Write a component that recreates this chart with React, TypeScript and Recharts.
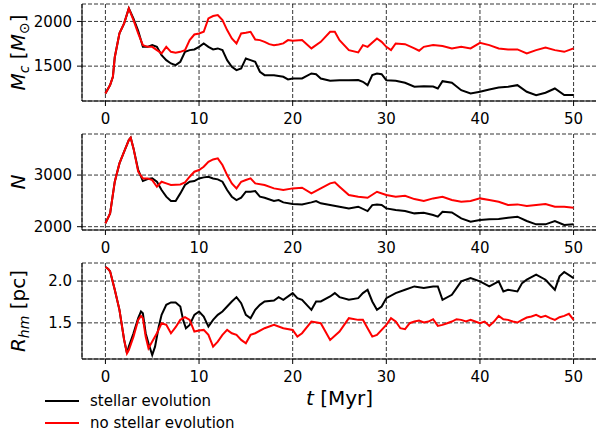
import { CartesianGrid, Line, LineChart, XAxis, YAxis } from "recharts";

type Pt = [number, number];

const timeTicks = [0, 10, 20, 30, 40, 50];

// cluster mass M_c [M_sun]
const massStellar: Pt[] = [
  [0, 1194], [0.5, 1288], [0.8, 1381], [1, 1600], [1.5, 1866], [2, 1978], [2.5, 2146], [3, 2030],
  [3.5, 1895], [4, 1716], [4.5, 1716], [5, 1735], [5.5, 1716], [6, 1623], [6.5, 1567], [7, 1530],
  [7.5, 1511], [8, 1549], [8.5, 1660], [9, 1679], [9.5, 1687], [10, 1716], [10.5, 1754], [11, 1716],
  [11.5, 1687], [12, 1698], [12.5, 1679], [13, 1567], [13.5, 1493], [14, 1455], [14.5, 1474],
  [15, 1586], [15.5, 1567], [16, 1549], [16.5, 1437], [17, 1399], [18, 1399], [19, 1381],
  [19.5, 1351], [20, 1362], [21, 1362], [22, 1418], [22.5, 1410], [23, 1362], [24, 1336],
  [25, 1343], [26, 1343], [27, 1345], [27.5, 1325], [28, 1287], [28.5, 1399], [29, 1418],
  [29.5, 1410], [30, 1343], [31, 1336], [32, 1314], [33, 1269], [34, 1275], [35, 1272],
  [35.5, 1250], [36, 1332], [37, 1314], [38, 1231], [39, 1194], [40, 1213], [41, 1239],
  [42, 1261], [43, 1269], [44, 1287], [45, 1213], [46, 1176], [47, 1202], [48, 1250],
  [49, 1176], [50, 1176],
];
const massNoStellar: Pt[] = [
  [0, 1194], [0.5, 1288], [0.8, 1381], [1, 1600], [1.5, 1866], [2, 1978], [2.5, 2146], [3, 2015],
  [3.5, 1866], [4, 1735], [4.5, 1716], [5, 1716], [5.5, 1679], [6, 1642], [6.5, 1716], [7, 1660],
  [7.5, 1650], [8, 1660], [8.5, 1679], [9, 1791], [9.5, 1854], [10, 1866], [10.5, 1884],
  [11, 2034], [11.5, 2060], [12, 2071], [12.5, 2015], [13, 1903], [13.5, 1810], [14, 1754],
  [14.5, 1866], [15, 1873], [15.5, 1884], [16, 1798], [16.5, 1791], [17, 1772], [17.5, 1746],
  [18, 1735], [18.5, 1743], [19, 1754], [19.5, 1791], [20, 1784], [21, 1791], [22, 1698],
  [23, 1772], [24, 1884], [24.5, 1884], [25, 1791], [26, 1679], [27, 1653], [27.5, 1735],
  [28, 1716], [29, 1810], [29.5, 1772], [30, 1716], [30.5, 1679], [31, 1754], [32, 1746],
  [33, 1698], [33.5, 1672], [34, 1716], [35, 1735], [36, 1724], [37, 1698], [38, 1716],
  [39, 1698], [40, 1761], [41, 1735], [42, 1698], [43, 1687], [44, 1687], [45, 1642],
  [46, 1679], [47, 1709], [48, 1679], [49, 1660], [50, 1698],
];

// number of stars N
const countStellar: Pt[] = [
  [0, 2065], [0.5, 2258], [1, 2871], [1.5, 3226], [2, 3452], [2.5, 3677], [2.7, 3722], [3, 3516],
  [3.5, 3100], [4, 2884], [4.5, 2923], [5, 2935], [5.5, 2871], [6, 2710], [6.5, 2581], [7, 2497],
  [7.5, 2497], [8, 2645], [8.5, 2807], [9, 2871], [9.5, 2884], [10, 2935], [10.5, 2955],
  [11, 2968], [11.5, 2935], [12, 2916], [12.5, 2871], [13, 2710], [13.5, 2581], [14, 2516],
  [14.5, 2561], [15, 2677], [15.5, 2677], [16, 2690], [16.5, 2581], [17, 2561], [18, 2497],
  [18.5, 2516], [19, 2471], [20, 2439], [21, 2432], [22, 2471], [22.5, 2497], [23, 2452],
  [24, 2419], [25, 2387], [26, 2355], [27, 2387], [28, 2303], [28.5, 2419], [29, 2432],
  [29.5, 2419], [30, 2355], [31, 2323], [32, 2303], [33, 2258], [34, 2271], [35, 2226],
  [35.5, 2194], [36, 2290], [37, 2277], [38, 2161], [39, 2097], [40, 2129], [41, 2142],
  [42, 2148], [43, 2174], [44, 2194], [45, 2110], [46, 2045], [47, 2045], [48, 2110],
  [49, 2032], [50, 2045],
];
const countNoStellar: Pt[] = [
  [0, 2065], [0.5, 2258], [1, 2871], [1.5, 3226], [2, 3452], [2.5, 3677], [2.7, 3722], [3, 3516],
  [3.5, 3065], [4, 2935], [4.5, 2935], [5, 2903], [5.5, 2774], [6, 2871], [6.5, 2839], [7, 2807],
  [8, 2819], [8.5, 2858], [9, 2968], [9.5, 3065], [10, 3097], [10.5, 3161], [11, 3258],
  [11.5, 3303], [12, 3323], [12.5, 3194], [13, 3000], [13.5, 2839], [14, 2742], [14.5, 2871],
  [15, 2903], [15.5, 2935], [16, 2839], [17, 2807], [18, 2742], [19, 2710], [20, 2742],
  [21, 2755], [22, 2645], [23, 2742], [24, 2839], [24.5, 2858], [25, 2774], [26, 2613],
  [27, 2581], [28, 2561], [29, 2677], [30, 2613], [31, 2581], [32, 2600], [33, 2535],
  [34, 2497], [35, 2548], [36, 2581], [37, 2516], [38, 2484], [39, 2497], [40, 2548],
  [41, 2516], [42, 2484], [43, 2419], [44, 2432], [45, 2400], [46, 2419], [47, 2439],
  [48, 2387], [49, 2387], [50, 2368],
];

// half-mass radius R_hm [pc]
const radiusStellar: Pt[] = [
  [0, 2.168], [0.3, 2.144], [0.5, 2.116], [1, 1.896], [1.5, 1.656], [2, 1.296], [2.3, 1.14],
  [2.5, 1.216], [3, 1.376], [3.5, 1.556], [3.8, 1.636], [4, 1.616], [4.3, 1.376], [4.6, 1.256],
  [5, 1.116], [5.3, 1.216], [5.7, 1.456], [6, 1.596], [6.5, 1.716], [7, 1.744], [7.5, 1.744],
  [8, 1.696], [8.3, 1.536], [8.6, 1.436], [9, 1.476], [9.5, 1.596], [10, 1.636], [10.5, 1.576],
  [11, 1.456], [11.5, 1.536], [12, 1.596], [12.5, 1.636], [13, 1.696], [13.5, 1.756],
  [14, 1.808], [14.5, 1.736], [15, 1.596], [15.5, 1.556], [16, 1.656], [16.5, 1.716],
  [17, 1.756], [18, 1.768], [18.5, 1.808], [19, 1.776], [20, 1.856], [20.5, 1.796],
  [21, 1.776], [22, 1.656], [22.5, 1.756], [23, 1.756], [24, 1.816], [24.5, 1.856],
  [25, 1.808], [26, 1.776], [27, 1.796], [27.5, 1.856], [28, 1.896], [28.5, 1.756],
  [29, 1.656], [29.5, 1.696], [30, 1.796], [31, 1.856], [32, 1.896], [33, 1.936], [34, 1.916],
  [35, 1.936], [35.5, 1.936], [36, 1.776], [37, 1.836], [37.5, 1.916], [38, 1.996],
  [39, 2.036], [40, 1.996], [41, 1.936], [42, 1.996], [42.5, 1.876], [43, 1.896], [44, 1.876],
  [44.5, 1.976], [45, 2.016], [46, 2.076], [47, 2.016], [48, 1.896], [48.5, 2.056],
  [49, 2.108], [50, 2.036],
];
const radiusNoStellar: Pt[] = [
  [0, 2.168], [0.3, 2.144], [0.5, 2.116], [1, 1.896], [1.5, 1.656], [2, 1.296], [2.3, 1.136],
  [2.5, 1.176], [3, 1.336], [3.5, 1.536], [3.8, 1.584], [4, 1.556], [4.3, 1.336], [4.6, 1.196],
  [5, 1.276], [5.5, 1.376], [6, 1.496], [6.5, 1.476], [7, 1.376], [7.5, 1.448], [8, 1.536],
  [8.5, 1.568], [9, 1.536], [9.5, 1.396], [10, 1.408], [10.5, 1.416], [11, 1.356], [11.5, 1.216],
  [12, 1.276], [12.5, 1.356], [13, 1.416], [13.5, 1.376], [14, 1.356], [14.5, 1.296],
  [15, 1.256], [15.5, 1.356], [16, 1.376], [17, 1.436], [18, 1.476], [19, 1.436], [20, 1.416],
  [20.5, 1.336], [21, 1.376], [22, 1.516], [23, 1.496], [24, 1.296], [25, 1.396], [25.5, 1.476],
  [26, 1.556], [27, 1.536], [27.5, 1.536], [28, 1.436], [28.5, 1.336], [29, 1.356],
  [30, 1.476], [30.5, 1.556], [31, 1.516], [31.5, 1.436], [32, 1.424], [32.5, 1.496],
  [33, 1.516], [33.5, 1.528], [34, 1.504], [34.5, 1.516], [35, 1.544], [35.5, 1.464],
  [36, 1.476], [36.5, 1.496], [37, 1.516], [37.5, 1.544], [38, 1.536], [38.5, 1.516],
  [39, 1.536], [39.5, 1.516], [40, 1.496], [40.5, 1.516], [41, 1.464], [41.5, 1.516],
  [42, 1.584], [42.5, 1.544], [43, 1.536], [43.5, 1.516], [44, 1.504], [44.5, 1.536],
  [45, 1.564], [45.5, 1.576], [46, 1.596], [46.5, 1.568], [47, 1.584], [47.5, 1.556],
  [48, 1.536], [48.5, 1.568], [49, 1.584], [49.5, 1.608], [50, 1.536],
];

const FONT = "DejaVu Sans, sans-serif";
const toPts = (arr: Pt[]) => arr.map(([t, v]) => ({ t, v }));

function MassLabel({ viewBox }: any) {
  const x = viewBox.x + 25;
  const y = viewBox.y + viewBox.height / 2;
  return (
    <text x={x} y={y} transform={`rotate(-90, ${x}, ${y})`} textAnchor="middle" fontSize={20} fontFamily={FONT} fill="#000">
      <tspan fontStyle="italic">M</tspan>
      <tspan fontStyle="italic" fontSize={14} dy={4}>c</tspan>
      <tspan dy={-4}> [</tspan>
      <tspan fontStyle="italic">M</tspan>
      <tspan fontSize={14} dy={4}>⊙</tspan>
      <tspan dy={-4}>]</tspan>
    </text>
  );
}

function CountLabel({ viewBox }: any) {
  const x = viewBox.x + 25;
  const y = viewBox.y + viewBox.height / 2;
  return (
    <text x={x} y={y} transform={`rotate(-90, ${x}, ${y})`} textAnchor="middle" fontSize={20} fontFamily={FONT} fontStyle="italic" fill="#000">
      N
    </text>
  );
}

function RadiusLabel({ viewBox }: any) {
  const x = viewBox.x + 25;
  const y = viewBox.y + viewBox.height / 2;
  return (
    <text x={x} y={y} transform={`rotate(-90, ${x}, ${y})`} textAnchor="middle" fontSize={20} fontFamily={FONT} fill="#000">
      <tspan fontStyle="italic">R</tspan>
      <tspan fontStyle="italic" fontSize={14} dy={4}>hm</tspan>
      <tspan dy={-4}> [pc]</tspan>
    </text>
  );
}

function TimeLabel({ viewBox }: any) {
  return (
    <text x={viewBox.x + viewBox.width / 2} y={viewBox.y + 46} textAnchor="middle" fontSize={20} fontFamily={FONT} fill="#000">
      <tspan fontStyle="italic">t</tspan>
      <tspan> [Myr]</tspan>
    </text>
  );
}

interface PanelProps {
  top: number;
  height: number;
  bottom: number;
  domain: [number, number];
  yTicks: number[];
  fmt?: (v: number) => string;
  stellar: Pt[];
  noStellar: Pt[];
  yLabel: any;
  xLabel?: any;
}

const tickStyle = { fill: "#000", fontSize: 15, fontFamily: FONT };

function Panel({ top, height, bottom, domain, yTicks, fmt, stellar, noStellar, yLabel, xLabel }: PanelProps) {
  return (
    <div style={{ position: "absolute", left: 0, top }}>
      <LineChart width={602} height={height} margin={{ top: 4, right: 5, bottom, left: 0 }}>
        <CartesianGrid stroke="#000" strokeWidth={0.8} strokeDasharray="4 2" />
        <XAxis
          dataKey="t"
          type="number"
          domain={[-2.5, 52.5]}
          ticks={timeTicks}
          allowDataOverflow
          height={25}
          tickSize={5}
          tickMargin={7}
          tick={tickStyle}
          stroke="#000"
          label={xLabel}
        />
        <XAxis xAxisId="top" orientation="top" type="number" domain={[-2.5, 52.5]} height={0} tick={false} tickLine={false} stroke="#000" />
        <YAxis
          type="number"
          domain={domain}
          ticks={yTicks}
          allowDataOverflow
          width={82}
          tickSize={5}
          tickMargin={5}
          tick={tickStyle}
          tickFormatter={fmt}
          stroke="#000"
          label={yLabel}
        />
        <YAxis yAxisId="right" orientation="right" width={0} tick={false} tickLine={false} stroke="#000" />
        <Line data={toPts(stellar)} dataKey="v" stroke="#000000" strokeWidth={2} dot={false} type="linear" isAnimationActive={false} />
        <Line data={toPts(noStellar)} dataKey="v" stroke="#ff0000" strokeWidth={2} dot={false} type="linear" isAnimationActive={false} />
      </LineChart>
    </div>
  );
}

export default function App() {
  return (
    <div style={{ position: "absolute", left: 0, top: 0, width: 596, height: 437, overflow: "hidden", background: "#fff", fontFamily: FONT }}>
      <Panel top={0} height={130} bottom={4} domain={[1110, 2195]} yTicks={[1500, 2000]} stellar={massStellar} noStellar={massNoStellar} yLabel={<MassLabel />} />
      <Panel top={130} height={129} bottom={4} domain={[1936, 3795]} yTicks={[2000, 3000]} stellar={countStellar} noStellar={countNoStellar} yLabel={<CountLabel />} />
      <Panel
        top={259}
        height={178}
        bottom={53}
        domain={[1.068, 2.216]}
        yTicks={[1.5, 2.0]}
        fmt={(v) => v.toFixed(1)}
        stellar={radiusStellar}
        noStellar={radiusNoStellar}
        yLabel={<RadiusLabel />}
        xLabel={<TimeLabel />}
      />
      <svg width={260} height={47} style={{ position: "absolute", left: 0, top: 388 }}>
        <line x1={45} x2={79} y1={13} y2={13} stroke="#000" strokeWidth={2} />
        <text x={90} y={18} fontSize={15} fontFamily={FONT} fill="#000">stellar evolution</text>
        <line x1={45} x2={79} y1={35} y2={35} stroke="#ff0000" strokeWidth={2} />
        <text x={90} y={40} fontSize={15} fontFamily={FONT} fill="#000">no stellar evolution</text>
      </svg>
    </div>
  );
}
